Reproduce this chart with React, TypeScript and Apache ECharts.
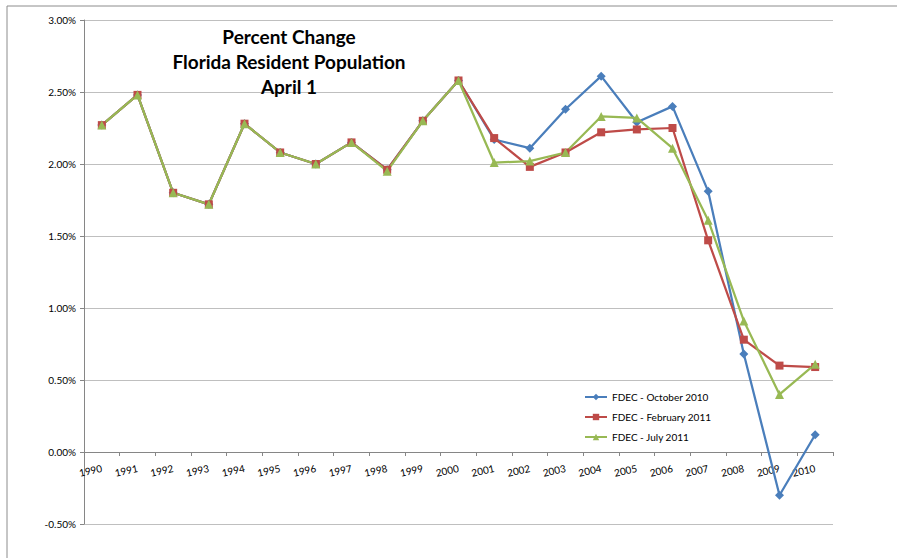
import React, { useEffect, useRef } from "react";
import * as echarts from "echarts";

const years = ["1990","1991","1992","1993","1994","1995","1996","1997","1998","1999","2000","2001","2002","2003","2004","2005","2006","2007","2008","2009","2010"];
const fdecOct2010 = [2.27,2.48,1.80,1.72,2.28,2.08,2.00,2.15,1.96,2.30,2.58,2.17,2.11,2.38,2.61,2.29,2.40,1.81,0.68,-0.30,0.12];
const fdecFeb2011 = [2.27,2.48,1.80,1.72,2.28,2.08,2.00,2.15,1.96,2.30,2.58,2.18,1.98,2.08,2.22,2.24,2.25,1.47,0.78,0.60,0.59];
const fdecJul2011 = [2.27,2.48,1.80,1.72,2.28,2.08,2.00,2.15,1.95,2.30,2.58,2.01,2.02,2.08,2.33,2.32,2.11,1.61,0.91,0.40,0.61];
const seriesNames = ["FDEC - October 2010", "FDEC - February 2011", "FDEC - July 2011"];
const titleText = "Percent Change\nFlorida Resident Population\nApril 1";

const FONT = "Lato, 'Open Sans', sans-serif";

export default function App() {
  const ref = useRef<HTMLDivElement>(null);
  useEffect(() => {
    if (!ref.current) return;
    const chart = echarts.init(ref.current, null, { renderer: "svg" });
    const mk = (name: string, data: number[], color: string, symbol: string, size: number) => ({
      name,
      type: "line",
      data,
      symbol,
      symbolSize: size,
      lineStyle: { color, width: 2.25 },
      itemStyle: { color },
      z: 3,
    });
    chart.setOption({
      animation: false,
      backgroundColor: "#ffffff",
      textStyle: { fontFamily: FONT },
      title: {
        text: titleText,
        left: 284,
        top: 19,
        textAlign: "center",
        textStyle: { fontSize: 19, fontWeight: "bold", color: "#000", lineHeight: 25, fontFamily: FONT },
      },
      graphic: [
        {
          type: "rect",
          shape: { x: 7, y: 6, width: 1000, height: 1000 },
          style: { fill: "none", stroke: "#8c8c8c", lineWidth: 1 },
          silent: true,
        },
      ],
      legend: {
        orient: "vertical",
        left: 579,
        top: 387,
        itemWidth: 22,
        itemHeight: 8,
        itemGap: 10,
        textStyle: { fontSize: 10, color: "#000", fontFamily: FONT },
        data: seriesNames,
      },
      grid: { left: 84, top: 20, right: 64, bottom: 34, containLabel: false },
      xAxis: {
        type: "category",
        data: years,
        boundaryGap: true,
        offset: -72,
        axisLine: { onZero: false, lineStyle: { color: "#868686", width: 1 } },
        axisTick: { show: true, length: 4, lineStyle: { color: "#868686" } },
        axisLabel: { rotate: 12, fontSize: 10, color: "#000", margin: 16, interval: 0, fontFamily: FONT },
        splitLine: { show: false },
      },
      yAxis: {
        type: "value",
        min: -0.5,
        max: 3,
        interval: 0.5,
        axisLine: { show: true, lineStyle: { color: "#868686", width: 1 } },
        axisTick: { show: true, length: 4, lineStyle: { color: "#868686" } },
        axisLabel: { formatter: (v: number) => v.toFixed(2) + "%", fontSize: 10, color: "#000", margin: 8, fontFamily: FONT },
        splitLine: { show: true, lineStyle: { color: "#bfbfbf", width: 1 } },
      },
      series: [
        mk(seriesNames[0], fdecOct2010, "#4a7ebb", "diamond", 9),
        mk(seriesNames[1], fdecFeb2011, "#be4b48", "rect", 8),
        mk(seriesNames[2], fdecJul2011, "#98b954", "triangle", 9),
      ],
    });
    return () => chart.dispose();
  }, []);
  return <div ref={ref} style={{ position: "fixed", left: 0, top: 0, width: 897, height: 558 }} />;
}
